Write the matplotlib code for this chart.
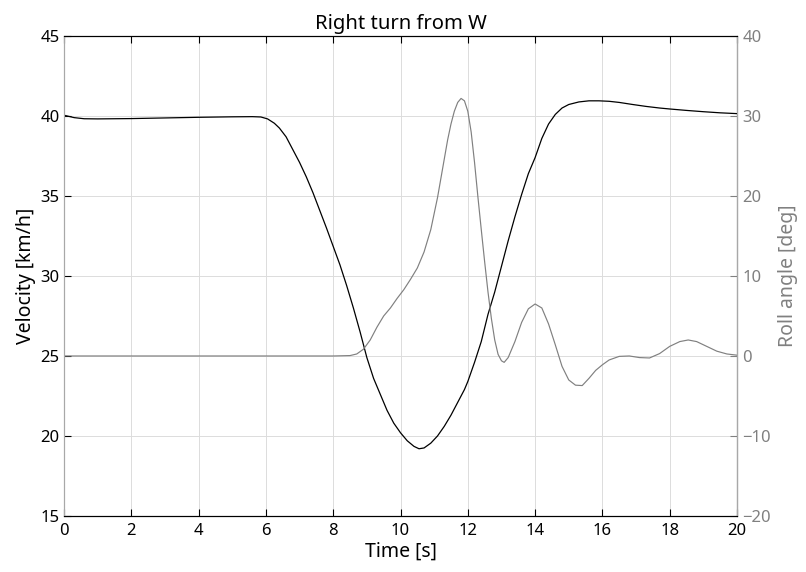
import matplotlib
matplotlib.use("Agg")
import matplotlib.pyplot as plt

# Velocity [km/h]
t_vel = [0.0, 0.3, 0.6, 1.0, 2.0, 3.0, 4.0, 5.0, 5.6, 5.85, 6.05, 6.25, 6.4, 6.6, 6.8,
         7.0, 7.2, 7.4, 7.6, 7.8, 8.0, 8.2, 8.4, 8.6, 8.8, 9.0, 9.2, 9.4, 9.6,
         9.8, 10.0, 10.2, 10.4, 10.55, 10.7, 10.9, 11.1, 11.3, 11.5, 11.7, 11.9,
         12.0, 12.2, 12.4, 12.6, 12.8, 13.0, 13.2, 13.4, 13.6, 13.8, 14.0, 14.2,
         14.4, 14.6, 14.8, 15.0, 15.3, 15.6, 15.9, 16.2, 16.5, 16.9, 17.3, 17.7,
         18.0, 18.5, 19.0, 19.5, 20.0]
velocity = [40.05, 39.9, 39.83, 39.82, 39.84, 39.88, 39.92, 39.95, 39.96, 39.94,
            39.82, 39.55, 39.25, 38.7, 37.9, 37.1, 36.2, 35.2, 34.1, 33.0, 31.85,
            30.7, 29.4, 28.0, 26.5, 24.9, 23.6, 22.6, 21.6, 20.8, 20.2, 19.7,
            19.35, 19.2, 19.25, 19.55, 20.0, 20.6, 21.3, 22.1, 22.9, 23.4, 24.6,
            25.9, 27.6, 29.0, 30.6, 32.2, 33.7, 35.1, 36.4, 37.4, 38.6, 39.5,
            40.1, 40.5, 40.72, 40.88, 40.95, 40.95, 40.92, 40.85, 40.72, 40.6,
            40.5, 40.44, 40.35, 40.27, 40.2, 40.15]

# Roll angle [deg]
t_roll = [0.0, 8.0, 8.5, 8.7, 8.9, 9.1, 9.3, 9.5, 9.7, 9.9, 10.1, 10.3, 10.5,
          10.7, 10.9, 11.1, 11.3, 11.4, 11.5, 11.6, 11.7, 11.8, 11.9, 12.0,
          12.1, 12.2, 12.3, 12.4, 12.5, 12.6, 12.7, 12.8, 12.9, 13.0, 13.08,
          13.2, 13.4, 13.6, 13.8, 14.0, 14.2, 14.4, 14.6, 14.8, 15.0, 15.2,
          15.4, 15.6, 15.8, 16.0, 16.2, 16.5, 16.8, 17.1, 17.4, 17.7, 18.0,
          18.3, 18.55, 18.8, 19.1, 19.4, 19.7, 20.0]
roll = [0.0, 0.0, 0.05, 0.25, 0.85, 2.0, 3.6, 5.0, 6.0, 7.2, 8.3, 9.6, 11.0,
        13.0, 15.8, 19.8, 24.6, 27.0, 29.0, 30.6, 31.7, 32.2, 31.9, 30.6,
        28.0, 24.2, 19.9, 15.8, 11.8, 8.0, 4.7, 2.0, 0.2, -0.6, -0.8,
        -0.2, 1.8, 4.2, 5.9, 6.5, 6.0, 4.0, 1.4, -1.3, -3.0, -3.65,
        -3.7, -2.8, -1.8, -1.1, -0.5, -0.05, 0.0, -0.2, -0.25, 0.3, 1.2,
        1.8, 2.0, 1.8, 1.2, 0.6, 0.25, 0.1]

x_ticks = list(range(0, 21, 2))
vel_ticks = list(range(15, 46, 5))
roll_ticks = list(range(-20, 41, 10))

gray = '#808080'
plt.rcParams['font.family'] = ['Noto Sans', 'DejaVu Sans']
plt.rcParams['axes.unicode_minus'] = True

fig = plt.figure(figsize=(8.06, 5.72), dpi=100)
ax = fig.add_axes([0.0794, 0.098, 0.835, 0.839])
ax2 = ax.twinx()

ax.plot(t_vel, velocity, color='black', linewidth=0.9)
ax2.plot(t_roll, roll, color=gray, linewidth=0.85)

ax.set_xlim(0, 20)
ax.set_ylim(15, 45)
ax2.set_ylim(-20, 40)
ax.set_xticks(x_ticks)
ax.set_yticks(vel_ticks)
ax2.set_yticks(roll_ticks)

ax.grid(True, color='#dcdcdc', linewidth=0.7)
ax.set_axisbelow(True)

ax.tick_params(direction='in', top=True, length=5, labelsize=12, colors='black')
ax.tick_params(axis='x', pad=5)
ax.tick_params(axis='y', pad=3)
ax2.tick_params(direction='in', length=5, labelsize=12, colors=gray, pad=4)

for s in ['top', 'bottom']:
    ax.spines[s].set_color('black')
    ax2.spines[s].set_color('black')
ax.spines['left'].set_color('#a8a8a8')
ax2.spines['left'].set_color('#a8a8a8')
ax2.spines['right'].set_color('#a8a8a8')

ax.set_xlabel('Time [s]', fontsize=14, labelpad=2)
ax.set_ylabel('Velocity [km/h]', fontsize=14, labelpad=3)
ax2.set_ylabel('Roll angle [deg]', fontsize=14, color=gray, labelpad=5)
ax.set_title('Right turn from W', fontsize=14.5, pad=5)

fig.savefig('out.png', dpi=100)
